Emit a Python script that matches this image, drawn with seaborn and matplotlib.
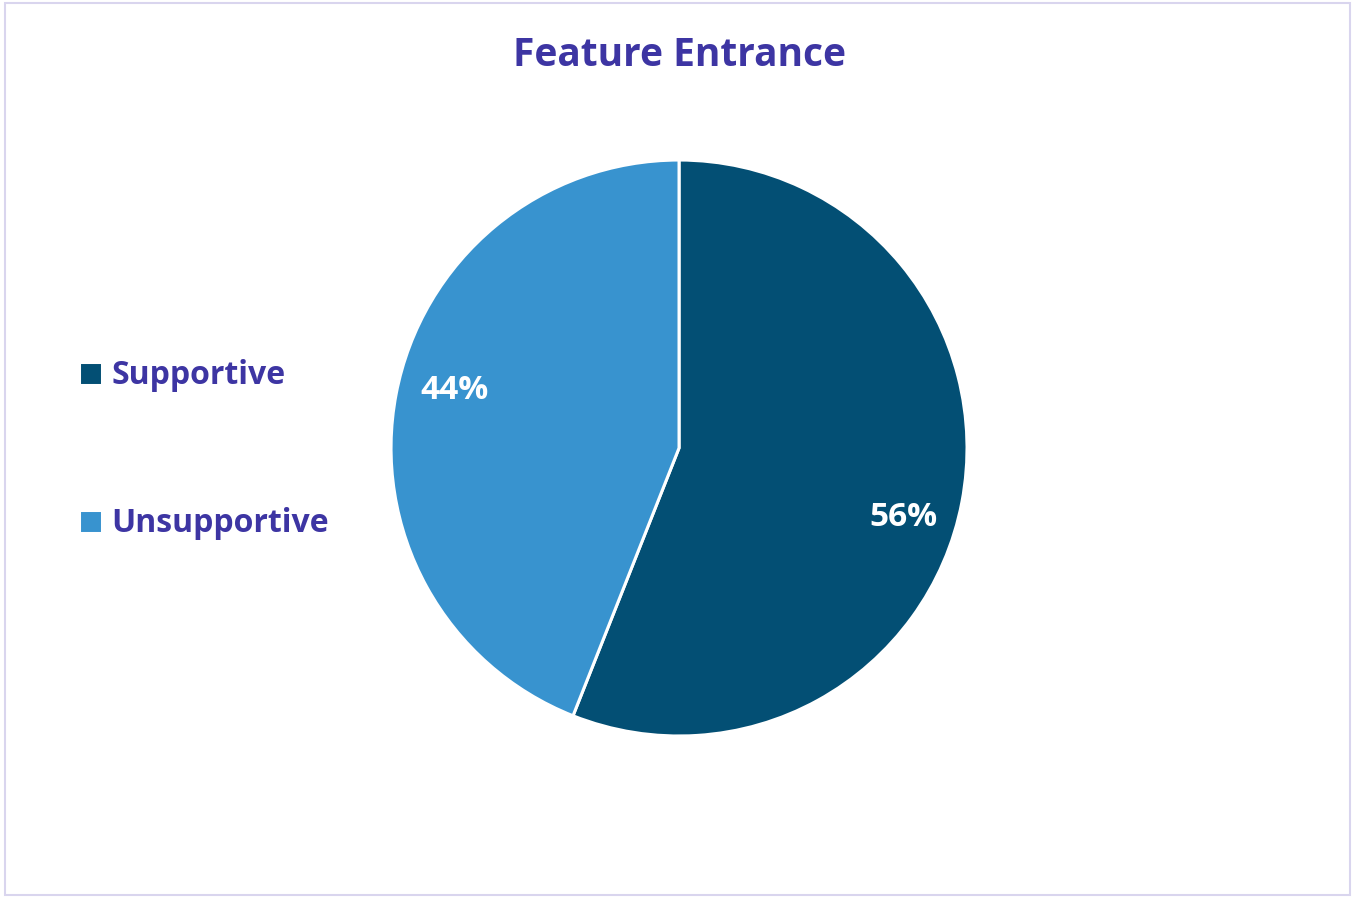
import matplotlib
matplotlib.use("Agg")
import matplotlib.pyplot as plt
import seaborn as sns
import numpy as np
from matplotlib.patches import Rectangle

# data
categories = ["Supportive", "Unsupportive"]
shares = [56, 44]
slice_colors = ["#034f74", "#3893cf"]
title = "Feature Entrance"

sns.set_theme(style="white")
plt.rcParams['font.family'] = ['Open Sans', 'DejaVu Sans']
text_color = "#3d35a3"

fig = plt.figure(figsize=(13.54, 8.98), dpi=100)
ax = fig.add_axes([0.2888, 0.1804, 0.4254, 0.6414])

wedges, texts, autotexts = ax.pie(
    shares, colors=slice_colors, startangle=90, counterclock=False,
    autopct=lambda p: f"{p:.0f}%", pctdistance=0.81, radius=1,
    wedgeprops=dict(edgecolor="white", linewidth=2.2),
    textprops=dict(color="white", fontsize=24, fontweight="bold"))
ax.set_xlim(-1.0, 1.0)
ax.set_ylim(-1.0, 1.0)
ax.set_aspect("equal")

# excel nudges the labels a bit clockwise from the slice middle
rot = np.deg2rad(-5)
for t in autotexts:
    x, y = t.get_position()
    t.set_position((x * np.cos(rot) - y * np.sin(rot),
                    x * np.sin(rot) + y * np.cos(rot) - 0.02))

fig.text(0.5015, 0.938, title, ha="center", va="center",
         fontsize=28, fontweight="bold", color=text_color)

leg = fig.legend(wedges, categories, loc="center left",
                 bbox_to_anchor=(0.037, 0.499), frameon=False,
                 fontsize=23, labelspacing=3.6, handlelength=0.72,
                 handleheight=0.72, handletextpad=0.3)
for t in leg.get_texts():
    t.set_color(text_color)
    t.set_fontweight("bold")

# light frame around the chart area
fig.patches.append(Rectangle((0.004, 0.003), 0.993, 0.994, transform=fig.transFigure,
                             fill=False, edgecolor="#d9d5ee", linewidth=1.5))

fig.savefig("out.png", dpi=100)
